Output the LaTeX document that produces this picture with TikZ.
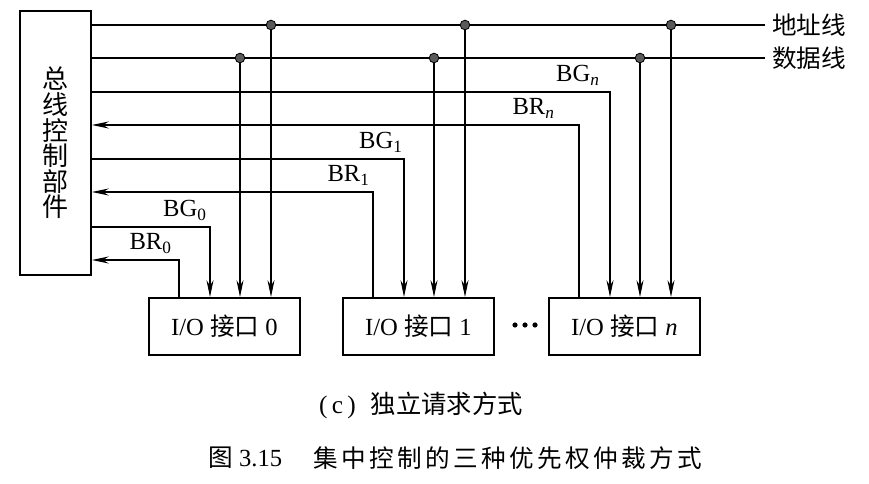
\documentclass[tikz,border=0pt]{standalone}
\usepackage{fontspec}
\setmainfont{Liberation Serif}
\newfontfamily\cjk{Noto Sans CJK SC}
\usetikzlibrary{arrows.meta,positioning,calc}

\begin{document}
\begin{tikzpicture}[x=0.025cm,y=-0.025cm,
  bus/.style={line width=0.8pt},
  arr/.style={bus,-{Stealth[length=12pt,width=5pt,inset=4pt]}},
  unit/.style={draw,line width=1.3pt,minimum width=3.775cm,minimum height=1.425cm,
    anchor=north west,inner sep=0pt,font=\fontsize{17.5}{20}\selectfont},
  sig/.style={inner sep=0pt,anchor=base east,font=\fontsize{17.5}{20}\selectfont},
  busname/.style={inner sep=5pt,anchor=west,font=\cjk\fontsize{17.5}{20}\selectfont},
  tap/.style={draw=black,fill=black!65,line width=0.6pt}]
\useasboundingbox (0,0) rectangle (869,484);
% bus controller
\node[draw,line width=1.3pt,minimum width=1.775cm,minimum height=6.6cm,inner sep=0pt,
  align=center,font=\cjk\fontsize{18.5}{18.2}\selectfont] (ctrl) at (55.5,143)
  {总\\线\\控\\制\\部\\件};
% shared buses
\node[busname] (addr) at (765,25) {地址线};
\node[busname] (data) at (765,58) {数据线};
\draw[bus] (ctrl.east |- addr) -- (addr.west);
\draw[bus] (ctrl.east |- data) -- (data.west);
% one interface each: BG/BR own lines, taps on the buses
\foreach \i/\x/\t/\g/\r/\gx/\rx in {0/148/0/227/260/207/172, 1/342/1/159/192/403/370,
    n/548/{\itshape n}/92/125/600/555} {
  \node[unit] (io\i) at (\x,297) {I/O {\cjk 接口} \t};
  \coordinate (br\i) at ($(io\i.north west)+(31,0)$);
  \coordinate (bg\i) at ($(io\i.north west)+(62,0)$);
  \coordinate (dt\i) at ($(io\i.north west)+(92,0)$);
  \coordinate (ad\i) at ($(io\i.north west)+(123,0)$);
  \draw[arr] (br\i) |- (ctrl.east |- 0,\r);
  \draw[arr] (ctrl.east |- 0,\g) -| (bg\i);
  \draw[arr] (dt\i |- data) -- (dt\i);
  \draw[arr] (ad\i |- addr) -- (ad\i);
  \filldraw[tap] (dt\i |- data) circle (0.12cm);
  \filldraw[tap] (ad\i |- addr) circle (0.12cm);
  \node[sig] (bgl\i) at (\gx,\g-10) {BG\textsubscript{\t}};
  \node[sig] (brl\i) at (\rx,\r-10) {BR\textsubscript{\t}};
}
\foreach \d in {515,525,535} \fill (\d,325) circle (0.065cm);
% captions
\node[font=\fontsize{18}{20}\selectfont] (sub) at (421,405)
  {(\,c\,)\hspace{0.6em}{\cjk 独立请求方式}};
\node[anchor=west,inner sep=0pt,font=\fontsize{17.5}{20}\selectfont] (fig) at (208,458)
  {{\cjk 图} 3.15};
\node[anchor=west,inner sep=0pt,font=\cjk\fontsize{17.5}{20}\selectfont\addfontfeature{LetterSpace=14}]
  (title) at (313,458) {集中控制的三种优先权仲裁方式};
\end{tikzpicture}
\end{document}
